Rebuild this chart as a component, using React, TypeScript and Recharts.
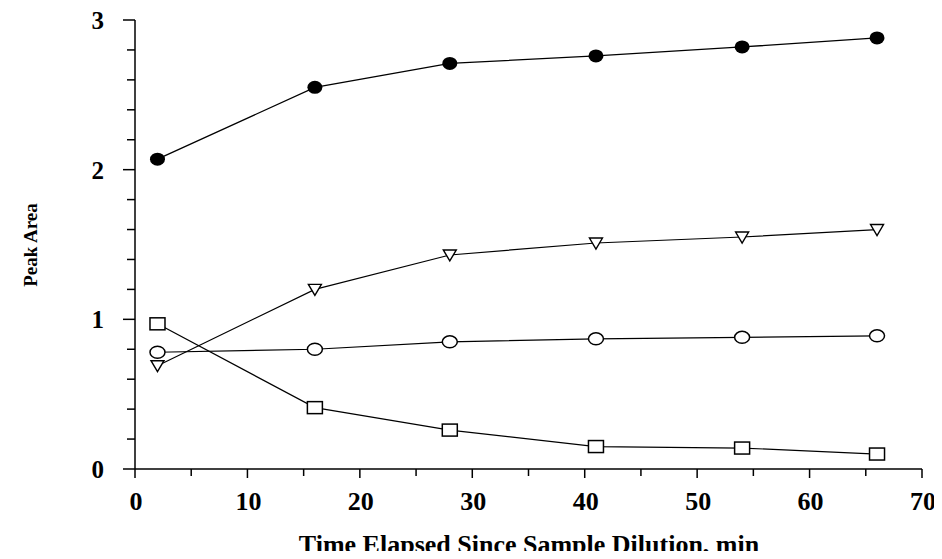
import React from "react";
import { LineChart, Line, XAxis, YAxis } from "recharts";

const times = [2, 16, 28, 41, 54, 66];
const filledCircle = [2.07, 2.55, 2.71, 2.76, 2.82, 2.88];
const triangle = [0.69, 1.2, 1.43, 1.51, 1.55, 1.6];
const openCircle = [0.78, 0.8, 0.85, 0.87, 0.88, 0.89];
const square = [0.97, 0.41, 0.26, 0.15, 0.14, 0.1];

const xTicks = [0, 5, 10, 15, 20, 25, 30, 35, 40, 45, 50, 55, 60, 65, 70];
const xLabels = [0, 10, 20, 30, 40, 50, 60, 70];
const yTicks = [0, 0.2, 0.4, 0.6, 0.8, 1, 1.2, 1.4, 1.6, 1.8, 2, 2.2, 2.4, 2.6, 2.8, 3];
const yLabels = [0, 1, 2, 3];

const data = times.map((t, i) => ({
  t,
  fc: filledCircle[i],
  tri: triangle[i],
  oc: openCircle[i],
  sq: square[i],
}));

const font = "'Liberation Serif', 'DejaVu Serif', serif";

const XTick = (props: any) => {
  const { x, y, payload } = props;
  const major = xLabels.includes(payload.value);
  return (
    <g>
      <line x1={x} x2={x} y1={y} y2={y + (major ? 9 : 7)} stroke="#000" strokeWidth={1.5} />
      {major && (
        <text x={x + 1} y={y + 41} textAnchor="middle" fontFamily={font} fontWeight="bold" fontSize={26} fill="#000">
          {payload.value}
        </text>
      )}
    </g>
  );
};

const YTick = (props: any) => {
  const { x, y, payload } = props;
  const major = yLabels.includes(payload.value);
  return (
    <g>
      <line x1={x} x2={x - (major ? 12 : 8)} y1={y} y2={y} stroke="#000" strokeWidth={1.5} />
      {major && (
        <text x={x - 31} y={y + 9} textAnchor="end" fontFamily={font} fontWeight="bold" fontSize={25} fill="#000">
          {payload.value}
        </text>
      )}
    </g>
  );
};

const FilledDot = (p: any) => (
  <ellipse key={p.index} cx={p.cx} cy={p.cy} rx={7.5} ry={6.5} fill="#000" />
);
const OpenDot = (p: any) => (
  <ellipse key={p.index} cx={p.cx} cy={p.cy} rx={7.5} ry={6} fill="#fff" stroke="#000" strokeWidth={1.5} />
);
const SquareDot = (p: any) => (
  <rect key={p.index} x={p.cx - 7.5} y={p.cy - 6} width={15} height={12} fill="#fff" stroke="#000" strokeWidth={1.5} />
);
const TriDot = (p: any) => (
  <path
    key={p.index}
    d={`M${p.cx - 6.5},${p.cy - 5} L${p.cx + 6.5},${p.cy - 5} L${p.cx},${p.cy + 6} Z`}
    fill="#fff"
    stroke="#000"
    strokeWidth={1.4}
  />
);

export default function App() {
  return (
    <div style={{ margin: -8, width: 942, height: 559, background: "#fff" }}>
      <LineChart width={942} height={559} data={data} margin={{ top: 20, right: 20, bottom: 0, left: 75 }}>
        <XAxis
          dataKey="t"
          type="number"
          domain={[0, 70]}
          ticks={xTicks}
          tick={<XTick />}
          tickLine={false}
          tickSize={0}
          tickMargin={0}
          interval={0}
          axisLine={{ stroke: "#000", strokeWidth: 1.5 }}
          height={90}
        />
        <YAxis
          type="number"
          domain={[0, 3]}
          ticks={yTicks}
          tick={<YTick />}
          tickLine={false}
          tickSize={0}
          tickMargin={0}
          axisLine={{ stroke: "#000", strokeWidth: 1.5 }}
          width={60}
          interval={0}
        />
        <Line dataKey="fc" stroke="#000" strokeWidth={1.3} dot={FilledDot} isAnimationActive={false} />
        <Line dataKey="tri" stroke="#000" strokeWidth={1.2} dot={TriDot} isAnimationActive={false} />
        <Line dataKey="oc" stroke="#000" strokeWidth={1.2} dot={OpenDot} isAnimationActive={false} />
        <Line dataKey="sq" stroke="#000" strokeWidth={1.2} dot={SquareDot} isAnimationActive={false} />
        <text x={529} y={553} textAnchor="middle" fontFamily={font} fontWeight="bold" fontSize={26} fill="#000">
          Time Elapsed Since Sample Dilution, min
        </text>
        <text
          x={37}
          y={245}
          textAnchor="middle"
          transform="rotate(-90 37 245)"
          fontFamily={font}
          fontWeight="bold"
          fontSize={19}
          fill="#000"
        >
          Peak Area
        </text>
      </LineChart>
    </div>
  );
}
